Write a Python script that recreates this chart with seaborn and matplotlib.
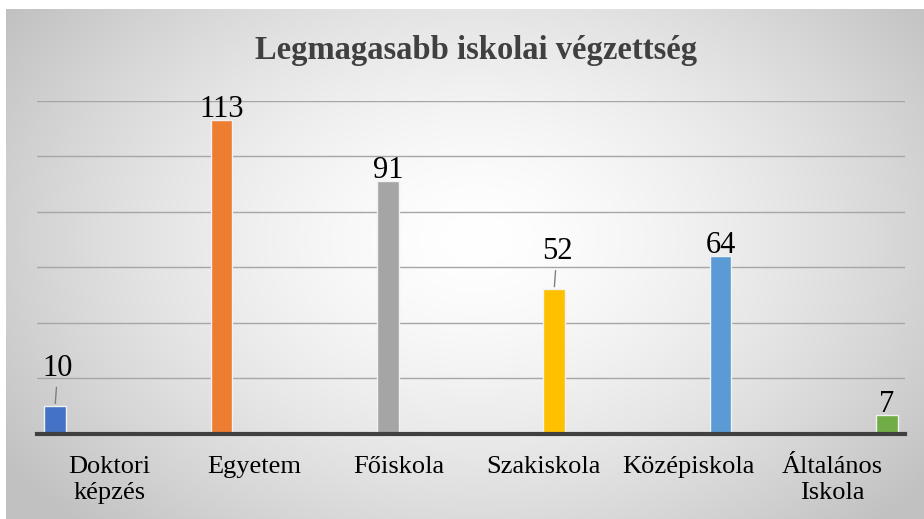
import numpy as np
import pandas as pd
import matplotlib
matplotlib.use("Agg")
import matplotlib.pyplot as plt
import seaborn as sns

# ---- data ----
categories = ["Doktori\nképzés", "Egyetem", "Főiskola", "Szakiskola", "Középiskola", "Általános\nIskola"]
values = [10, 113, 91, 52, 64, 7]
colors = ["#4472C4", "#ED7D31", "#A5A5A5", "#FFC000", "#5B9BD5", "#70AD47"]
title = "Legmagasabb iskolai végzettség"
leader_labels = [0, 3]  # indices of labels drawn with a leader line

sns.set_theme(style="white")
plt.rcParams["font.family"] = ["Liberation Serif", "DejaVu Serif"]

W, H = 924, 519
fig = plt.figure(figsize=(W / 100, H / 100), dpi=100)
fig.patch.set_facecolor("white")

# radial gradient background of the chart area
bw, bh = W - 6, H - 9
bg = fig.add_axes([6 / W, 0, bw / W, bh / H], zorder=0)
yy, xx = np.mgrid[0:bh, 0:bw]
cx, cy = 470, 230
r = np.sqrt(((xx - cx) / 560.0) ** 2 + ((yy - cy) / 400.0) ** 2)
v = 1 - 0.24 * np.clip(r, 0, 1) ** 1.5
bg.imshow(np.dstack([v, v, v]), aspect="auto", origin="upper",
          extent=(0, bw, bh, 0), interpolation="bilinear")
bg.axis("off")

ax = fig.add_axes([37 / W, 85 / H, 868 / W, (434 - 100.5) / H], zorder=1)
ax.patch.set_alpha(0)

df = pd.DataFrame({"cat": categories, "val": values, "series": categories})
sns.barplot(data=df, x="cat", y="val", hue="series", palette=colors,
            saturation=1, width=0.9, dodge=True, legend=False, ax=ax,
            edgecolor="#f2f2f2", linewidth=1)

ax.set_ylim(0, 120)
ax.set_yticks(range(0, 121, 20))
ax.set_yticklabels([])
ax.yaxis.grid(True, color="#a6a6a6", lw=1)
ax.set_axisbelow(True)
ax.tick_params(axis="y", length=0)
ax.tick_params(axis="x", length=0, pad=16, labelsize=19, colors="black")
ax.set_xlabel("")
ax.set_ylabel("")
for s in ["left", "right", "top"]:
    ax.spines[s].set_visible(False)
ax.spines["bottom"].set_color("#404040")
ax.spines["bottom"].set_linewidth(3)
for t in ax.get_xticklabels():
    t.set_linespacing(1.2)

# data labels
for cont in ax.containers:
    for bar in cont:
        h = bar.get_height()
        if h is None or np.isnan(h) or h == 0:
            continue
        x = bar.get_x() + bar.get_width() / 2
        i = values.index(int(round(h)))
        if i in leader_labels:
            ax.annotate(str(values[i]), xy=(x, h), xytext=(2, 22),
                        textcoords="offset points", ha="center", va="baseline",
                        fontsize=22, color="black",
                        arrowprops=dict(arrowstyle="-", color="#7f7f7f", lw=1,
                                        shrinkA=1, shrinkB=2))
        else:
            ax.annotate(str(values[i]), xy=(x, h), xytext=(0, 2),
                        textcoords="offset points", ha="center", va="baseline",
                        fontsize=22, color="black")

fig.text(476 / W, 1 - 51 / H, title, ha="center", va="center",
         fontsize=23.5, weight="bold", color="#404040")

fig.savefig("out.png", dpi=100)
